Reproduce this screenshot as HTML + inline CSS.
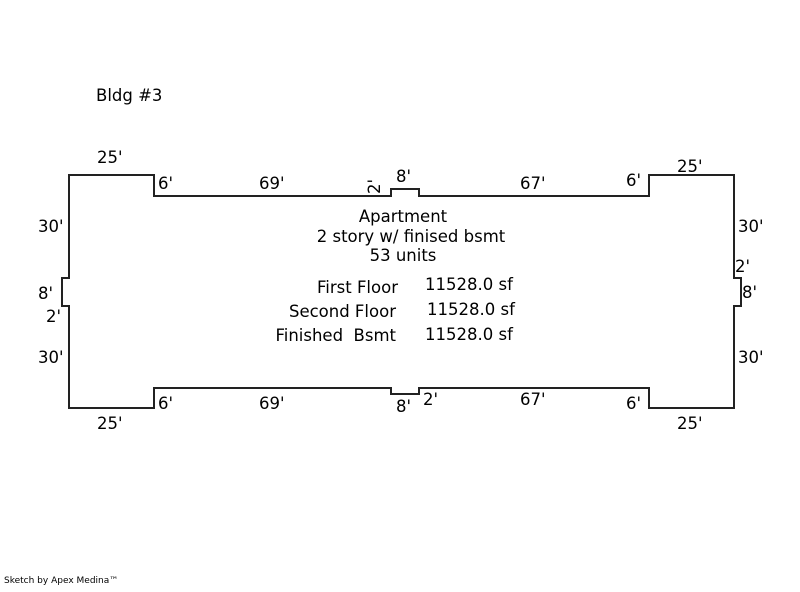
<!DOCTYPE html>
<html><head><style>
body{margin:0;background:#fff;width:800px;height:587px;overflow:hidden}
svg text{font-family:"DejaVu Sans","Liberation Sans",sans-serif;font-size:16.5px;fill:#000}
</style></head><body>
<svg width="800" height="587" xmlns="http://www.w3.org/2000/svg">
<path d="M69,175 H154 V196 H391 V189 H419 V196 H649 V175 H734 V278 H741 V306 H734 V408 H649 V388 H419 V394 H391 V388 H154 V408 H69 V306 H62 V278 H69 Z" fill="none" stroke="#222" stroke-width="2"/>
<text x="96" y="101">Bldg #3</text>
<text x="97" y="163">25'</text>
<text x="158" y="189">6'</text>
<text x="259" y="189">69'</text>
<text x="0" y="0" transform="translate(380,194) rotate(-90)">2'</text>
<text x="396" y="182">8'</text>
<text x="520" y="189">67'</text>
<text x="626" y="186">6'</text>
<text x="677" y="172">25'</text>
<text x="38" y="232">30'</text>
<text x="38" y="299">8'</text>
<text x="46" y="322">2'</text>
<text x="38" y="363">30'</text>
<text x="738" y="232">30'</text>
<text x="735" y="272">2'</text>
<text x="742" y="298">8'</text>
<text x="738" y="363">30'</text>
<text x="158" y="409">6'</text>
<text x="259" y="409">69'</text>
<text x="396" y="412">8'</text>
<text x="423" y="405">2'</text>
<text x="520" y="405">67'</text>
<text x="626" y="409">6'</text>
<text x="97" y="429">25'</text>
<text x="677" y="429">25'</text>
<text x="403" y="222" text-anchor="middle">Apartment</text>
<text x="411" y="242" text-anchor="middle">2 story w/ finised bsmt</text>
<text x="403" y="261" text-anchor="middle">53 units</text>
<text x="398" y="293" text-anchor="end">First Floor</text>
<text x="396" y="317" text-anchor="end">Second Floor</text>
<text x="396" y="341" text-anchor="end">Finished&#160; Bsmt</text>
<text x="425" y="290">11528.0 sf</text>
<text x="427" y="315">11528.0 sf</text>
<text x="425" y="340">11528.0 sf</text>
<text x="4" y="583" style="font-size:9px">Sketch by Apex Medina™</text>
</svg>
</body></html>
